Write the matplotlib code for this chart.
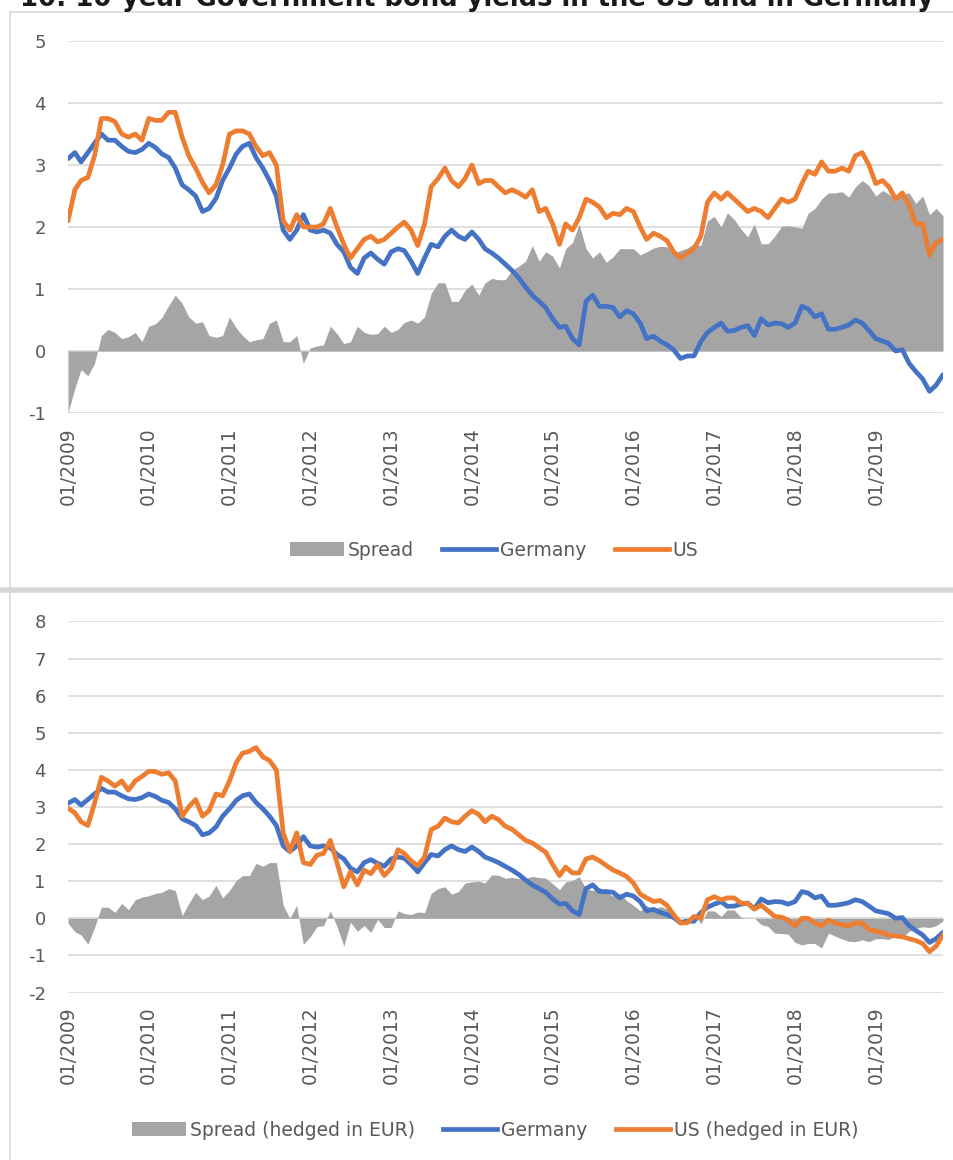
import numpy as np
import pandas as pd
import matplotlib
matplotlib.use("Agg")
import matplotlib.pyplot as plt
import matplotlib.dates as mdates
from matplotlib.lines import Line2D
from matplotlib.patches import Patch

plt.rcParams["axes.unicode_minus"] = False

# ---------------- data (monthly readings, Jan 2009 - Nov 2019) ----------------
start_month = "2009-01-01"

germany = [
    3.10, 3.20, 3.05, 3.20, 3.35, 3.50, 3.40, 3.40, 3.30, 3.22, 3.20, 3.25,   # 2009
    3.35, 3.28, 3.18, 3.12, 2.95, 2.68, 2.60, 2.50, 2.25, 2.30, 2.46, 2.75,   # 2010
    2.95, 3.18, 3.30, 3.35, 3.12, 2.95, 2.75, 2.50, 1.95, 1.80, 1.95, 2.20,   # 2011
    1.95, 1.92, 1.95, 1.90, 1.72, 1.60, 1.35, 1.25, 1.50, 1.58, 1.48, 1.40,   # 2012
    1.60, 1.65, 1.62, 1.45, 1.25, 1.50, 1.72, 1.68, 1.85, 1.95, 1.85, 1.80,   # 2013
    1.92, 1.80, 1.65, 1.58, 1.50, 1.40, 1.30, 1.18, 1.03, 0.90, 0.80, 0.70,   # 2014
    0.52, 0.38, 0.40, 0.20, 0.10, 0.80, 0.90, 0.72, 0.72, 0.70, 0.55, 0.65,   # 2015
    0.60, 0.45, 0.20, 0.24, 0.16, 0.10, 0.02, -0.12, -0.08, -0.08, 0.15, 0.30, # 2016
    0.38, 0.45, 0.32, 0.33, 0.38, 0.41, 0.25, 0.52, 0.42, 0.45, 0.44, 0.38,   # 2017
    0.45, 0.72, 0.68, 0.55, 0.60, 0.35, 0.35, 0.38, 0.42, 0.50, 0.45, 0.33,   # 2018
    0.20, 0.16, 0.12, 0.00, 0.02, -0.20, -0.33, -0.45, -0.65, -0.55, -0.38,   # 2019
]

us = [
    2.10, 2.60, 2.75, 2.80, 3.15, 3.75, 3.75, 3.70, 3.50, 3.45, 3.50, 3.40,   # 2009
    3.75, 3.72, 3.72, 3.85, 3.85, 3.45, 3.15, 2.95, 2.72, 2.55, 2.68, 3.00,   # 2010
    3.50, 3.55, 3.55, 3.50, 3.30, 3.15, 3.20, 3.00, 2.10, 1.95, 2.20, 2.00,   # 2011
    2.00, 2.00, 2.05, 2.30, 2.00, 1.72, 1.50, 1.65, 1.80, 1.85, 1.76, 1.80,   # 2012
    1.90, 2.00, 2.08, 1.95, 1.70, 2.05, 2.65, 2.78, 2.95, 2.75, 2.65, 2.78,   # 2013
    3.00, 2.70, 2.75, 2.75, 2.65, 2.55, 2.60, 2.55, 2.48, 2.60, 2.25, 2.30,   # 2014
    2.05, 1.72, 2.05, 1.95, 2.15, 2.45, 2.40, 2.32, 2.15, 2.22, 2.20, 2.30,   # 2015
    2.25, 2.00, 1.80, 1.90, 1.85, 1.78, 1.60, 1.50, 1.58, 1.65, 1.85, 2.40,   # 2016
    2.55, 2.45, 2.55, 2.45, 2.35, 2.25, 2.30, 2.25, 2.15, 2.30, 2.45, 2.40,   # 2017
    2.45, 2.70, 2.90, 2.85, 3.05, 2.90, 2.90, 2.95, 2.90, 3.15, 3.20, 3.00,   # 2018
    2.70, 2.75, 2.65, 2.45, 2.55, 2.35, 2.05, 2.05, 1.55, 1.75, 1.80,         # 2019
]

us_hedged = [
    2.97, 2.84, 2.60, 2.50, 3.10, 3.80, 3.70, 3.56, 3.70, 3.45, 3.70, 3.82,   # 2009
    3.96, 3.95, 3.88, 3.92, 3.70, 2.75, 3.00, 3.20, 2.75, 2.90, 3.35, 3.30,   # 2010
    3.70, 4.20, 4.45, 4.50, 4.60, 4.35, 4.25, 4.00, 2.30, 1.80, 2.30, 1.50,   # 2011
    1.45, 1.70, 1.75, 2.10, 1.50, 0.85, 1.25, 0.90, 1.30, 1.20, 1.45, 1.15,   # 2012
    1.35, 1.85, 1.75, 1.55, 1.42, 1.65, 2.39, 2.48, 2.70, 2.60, 2.57, 2.75,   # 2013
    2.90, 2.80, 2.60, 2.75, 2.66, 2.48, 2.40, 2.25, 2.10, 2.03, 1.90, 1.78,   # 2014
    1.45, 1.15, 1.38, 1.22, 1.22, 1.60, 1.65, 1.55, 1.42, 1.30, 1.22, 1.13,   # 2015
    0.95, 0.65, 0.55, 0.45, 0.48, 0.35, 0.10, -0.13, -0.12, 0.05, 0.00, 0.50, # 2016
    0.58, 0.50, 0.55, 0.55, 0.41, 0.40, 0.25, 0.35, 0.20, 0.05, 0.03, -0.05,  # 2017
    -0.20, 0.00, 0.00, -0.13, -0.20, -0.05, -0.13, -0.18, -0.20, -0.13, -0.13, -0.30,  # 2018
    -0.35, -0.39, -0.45, -0.48, -0.50, -0.55, -0.60, -0.68, -0.90, -0.75, -0.45,      # 2019
]

year_ticks = list(range(2009, 2020))

top_labels = ["Spread", "Germany", "US"]
bottom_labels = ["Spread (hedged in EUR)", "Germany", "US (hedged in EUR)"]
title_text = "10: 10-year Government bond yields in the US and in Germany"

# ---------------- styling ----------------
BLUE = "#4472C4"
ORANGE = "#ED7D31"
GREY = "#A5A5A5"
GRID = "#D9D9D9"
TXT = "#595959"

W, H = 954, 1160
fig = plt.figure(figsize=(W / 100, H / 100), dpi=100)
fig.patch.set_facecolor("white")

dates = pd.date_range(start_month, periods=len(germany), freq="MS")
de = np.array(germany)
us_a = np.array(us)
ush = np.array(us_hedged)


def px_axes(left, right, top, bottom):
    return [left / W, 1 - bottom / H, (right - left) / W, (bottom - top) / H]


def style_axis(ax, ymin, ymax):
    ax.set_ylim(ymin, ymax)
    ax.set_yticks(range(ymin, ymax + 1))
    ax.set_xlim(dates[0], dates[-1])
    ax.set_xticks([pd.Timestamp(f"{y}-01-01") for y in year_ticks])
    ax.xaxis.set_major_formatter(mdates.DateFormatter("%m/%Y"))
    for s in ax.spines.values():
        s.set_visible(False)
    ax.grid(axis="y", color=GRID, lw=1.2)
    ax.grid(axis="x", visible=False)
    ax.set_axisbelow(True)
    ax.tick_params(axis="both", length=0, colors=TXT)
    ax.tick_params(axis="y", pad=16, labelsize=13)
    ax.tick_params(axis="x", pad=10, labelsize=13.5, labelrotation=90)
    for lab in ax.get_xticklabels():
        lab.set_va("top")
        lab.set_ha("center")


LW = 3.4

# ---- top panel ----
ax1 = fig.add_axes(px_axes(68, 943, 41, 413))
ax1.fill_between(dates, us_a - de, 0, color=GREY, lw=0)
ax1.plot(dates, de, color=BLUE, lw=LW, solid_capstyle="round")
ax1.plot(dates, us_a, color=ORANGE, lw=LW, solid_capstyle="round")
style_axis(ax1, -1, 5)

# ---- bottom panel ----
ax2 = fig.add_axes(px_axes(68, 943, 621.4, 992.5))
ax2.fill_between(dates, ush - de, 0, color=GREY, lw=0)
ax2.plot(dates, de, color=BLUE, lw=LW, solid_capstyle="round")
ax2.plot(dates, ush, color=ORANGE, lw=LW, solid_capstyle="round")
style_axis(ax2, -2, 8)


def make_legend(labels, cy, cx):
    handles = [
        Patch(facecolor=GREY, edgecolor="none"),
        Line2D([], [], color=BLUE, lw=LW),
        Line2D([], [], color=ORANGE, lw=LW),
    ]
    fig.legend(handles, labels, loc="center", bbox_to_anchor=(cx / W, 1 - cy / H),
               ncol=3, frameon=False, fontsize=13.5, labelcolor=TXT,
               handlelength=2.9, handleheight=0.75, handletextpad=0.2,
               columnspacing=1.5, borderaxespad=0)


make_legend(top_labels, 550, 494)
make_legend(bottom_labels, 1130, 495)

# ---- chart frames ----
def fline(x0, y0, x1, y1, lw=1.2, color=GRID):
    fig.add_artist(Line2D([x0 / W, x1 / W], [1 - y0 / H, 1 - y1 / H],
                          color=color, lw=lw, transform=fig.transFigure))

fline(10, 12, W, 12)
fline(10, 12, 10, 588)
fline(0, 590.5, W, 590.5, lw=4, color="#D6D6D6")
fline(10, 593, 10, H)

# ---- title (cropped at top, as in the reference) ----
fig.text(20 / W, 1 - 6 / H, title_text, fontsize=18.6, fontweight="bold",
         color="#1a1a1a", ha="left", va="baseline")

fig.savefig("out.png", dpi=100, facecolor="white")
